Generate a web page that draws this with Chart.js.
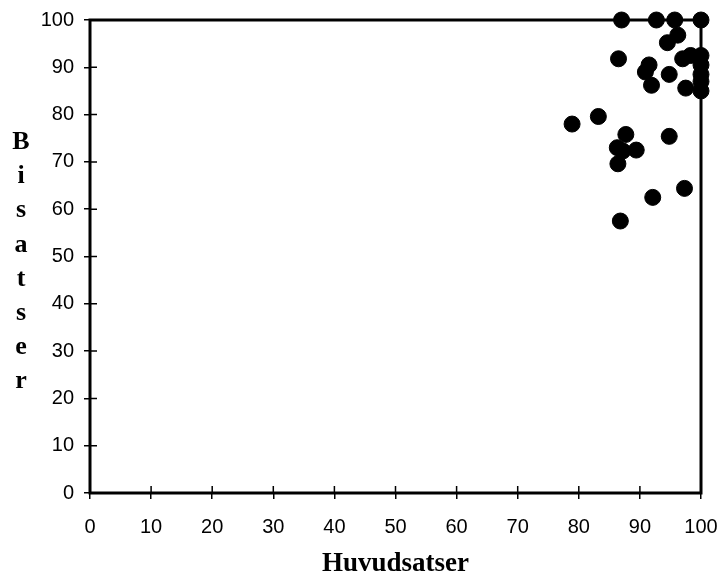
<!DOCTYPE html>
<html>
<head>
<meta charset="utf-8">
<script src="https://cdn.jsdelivr.net/npm/chart.js@4"></script>
<style>
  html, body { margin: 0; padding: 0; background: #fff; }
  #wrap { width: 720px; height: 578px; }
</style>
</head>
<body>
<div id="wrap"><canvas id="scatterChart" width="720" height="578"></canvas></div>
<script>
// Huvudsatser (x) against Bisatser (y), one point per text
var huvudsatser = [87.0, 92.7, 95.7, 100, 94.5, 96.2, 86.5, 97.0, 98.3, 100,
                   100, 100, 100, 100, 91.5, 90.9, 91.9, 94.8, 97.5, 78.9,
                   83.2, 87.7, 86.3, 87.2, 89.4, 86.4, 94.8, 97.3, 92.1, 86.8];
var bisatser = [100, 100, 100, 100, 95.2, 96.8, 91.8, 91.8, 92.5, 92.5,
                90.5, 88.5, 87.0, 85.0, 90.5, 89.0, 86.2, 88.5, 85.6, 78.0,
                79.6, 75.8, 73.0, 72.3, 72.5, 69.6, 75.4, 64.4, 62.5, 57.5];
var axisTicks = [0, 10, 20, 30, 40, 50, 60, 70, 80, 90, 100];
var xTitle = 'Huvudsatser';
var yTitle = 'Bisatser';

var points = [];
for (let i = 0; i < huvudsatser.length; i++) {
    points.push({ x: huvudsatser[i], y: bisatser[i] });
}

const tickFont = { family: '"Liberation Sans", Arial, sans-serif', size: 20 };
const titleFont = { family: '"Liberation Serif", "Times New Roman", serif', size: 27, weight: 'bold', lineHeight: 1 };

// frame round the plot plus the inward half of each tick mark
const framePlugin = {
    id: 'frame',
    beforeDatasetsDraw(chart) {
        const ctx = chart.ctx;
        const a = chart.chartArea;
        const xs = chart.scales.x;
        const ys = chart.scales.y;
        ctx.save();
        ctx.strokeStyle = '#000';
        ctx.lineWidth = 1.5;
        ctx.beginPath();
        axisTicks.forEach(function (v) {
            const px = xs.getPixelForValue(v);
            ctx.moveTo(px, a.bottom);
            ctx.lineTo(px, a.bottom - 7);
            const py = ys.getPixelForValue(v);
            ctx.moveTo(a.left, py);
            ctx.lineTo(a.left + 7, py);
        });
        ctx.stroke();
        ctx.lineWidth = 3;
        ctx.strokeRect(a.left, a.top, a.right - a.left, a.bottom - a.top);
        ctx.restore();
    },
    afterDraw(chart) {
        // y title written as a column of letters
        const ctx = chart.ctx;
        ctx.save();
        ctx.fillStyle = '#000';
        ctx.font = 'bold 26px "Liberation Serif", "Times New Roman", serif';
        ctx.textAlign = 'center';
        ctx.textBaseline = 'alphabetic';
        const letters = yTitle.split('');
        for (let i = 0; i < letters.length; i++) {
            ctx.fillText(letters[i], 21, 149 + i * 34.2);
        }
        ctx.restore();
    }
};

new Chart(document.getElementById('scatterChart'), {
    type: 'scatter',
    data: {
        datasets: [{
            data: points,
            backgroundColor: '#000',
            borderColor: '#000',
            borderWidth: 1,
            pointRadius: 8,
            pointHoverRadius: 8,
            clip: false
        }]
    },
    options: {
        responsive: false,
        animation: false,
        events: [],
        layout: { padding: { left: 0, right: 19, top: 20, bottom: 0 } },
        plugins: {
            legend: { display: false },
            tooltip: { enabled: false }
        },
        scales: {
            x: {
                type: 'linear',
                min: 0,
                max: 100,
                afterFit(scale) {
                    scale.height = 85;
                    // the end labels may hang past the plot edge
                    scale.paddingLeft = 0;
                    scale.paddingRight = 0;
                },
                afterBuildTicks(scale) { scale.ticks = axisTicks.map(v => ({ value: v })); },
                border: { display: false },
                grid: { drawOnChartArea: false, drawTicks: true, tickLength: 6, color: '#000', lineWidth: 1.5 },
                ticks: { color: '#000', font: tickFont, padding: 16, maxRotation: 0 },
                title: { display: true, text: xTitle, color: '#000', font: titleFont, padding: { top: 0, bottom: 0 } }
            },
            y: {
                type: 'linear',
                min: 0,
                max: 100,
                afterFit(scale) {
                    scale.width = 90;
                    scale.paddingTop = 0;
                    scale.paddingBottom = 0;
                },
                afterBuildTicks(scale) { scale.ticks = axisTicks.map(v => ({ value: v })); },
                border: { display: false },
                grid: { drawOnChartArea: false, drawTicks: true, tickLength: 6, color: '#000', lineWidth: 1.5 },
                ticks: { color: '#000', font: tickFont, padding: 10 }
            }
        }
    },
    plugins: [framePlugin]
});
</script>
</body>
</html>
